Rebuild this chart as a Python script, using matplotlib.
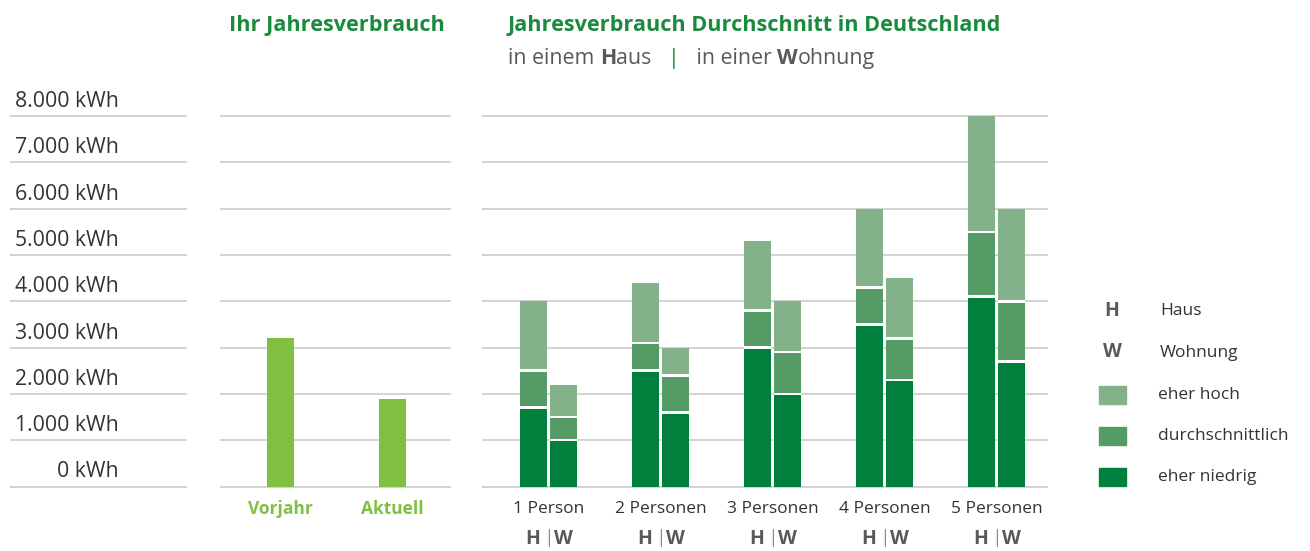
import matplotlib.pyplot as plt
from matplotlib.patches import Rectangle

plt.rcParams['font.family'] = ['Open Sans', 'DejaVu Sans']

# Achse (kWh)
ticks = [0, 1000, 2000, 3000, 4000, 5000, 6000, 7000, 8000]
tick_labels = ["0 kWh", "1.000 kWh", "2.000 kWh", "3.000 kWh", "4.000 kWh",
               "5.000 kWh", "6.000 kWh", "7.000 kWh", "8.000 kWh"]

# Ihr Jahresverbrauch
own_labels = ["Vorjahr", "Aktuell"]
own_values = [3200, 1890]

# Durchschnitt in Deutschland (Obergrenzen der Stufen, kumuliert)
groups = ["1 Person", "2 Personen", "3 Personen", "4 Personen", "5 Personen"]
haus_niedrig = [1700, 2500, 3000, 3500, 4100]
haus_durch = [2500, 3100, 3800, 4300, 5500]
haus_hoch = [4000, 4400, 5300, 6000, 8000]
wohn_niedrig = [1000, 1600, 2000, 2300, 2700]
wohn_durch = [1500, 2400, 2900, 3200, 4000]
wohn_hoch = [2200, 3000, 4000, 4500, 6000]

legend_labels = ["eher hoch", "durchschnittlich", "eher niedrig"]

c_niedrig = "#007f3d"
c_durch = "#559b65"
c_hoch = "#83b189"
c_own = "#80c041"
c_title = "#1a8a3e"
c_text = "#333333"
c_grey = "#58595b"
c_grid = "#d3d3d3"

W, H = 1310, 551
fig = plt.figure(figsize=(W / 100, H / 100), dpi=100)

# vertikale Skala: 0 -> 486.5 px, 8000 -> 116 px (von oben)
ymin, ymax = -200, 8200
scale = (486.5 - 116) / 8000
top_px = 116 - (ymax - 8000) * scale
bot_px = 486.5 + (0 - ymin) * scale


def make_axes(x0, x1):
    ax = fig.add_axes([x0 / W, (H - bot_px) / H, (x1 - x0) / W, (bot_px - top_px) / H])
    ax.set_ylim(ymin, ymax)
    ax.axis("off")
    for t in ticks:
        ax.axhline(t, color=c_grid, lw=1.4, zorder=0)
    return ax


# Beschriftungsspalte
ax0 = make_axes(10, 187)
ax0.set_xlim(0, 1)
for t, lab in zip(ticks, tick_labels):
    ax0.annotate(lab, xy=((119 - 10) / 177, t), xytext=(0, 6.5), textcoords="offset points",
                 ha="right", va="baseline", fontsize=15.3, color=c_text)

# Ihr Jahresverbrauch
ax1 = make_axes(220, 451)
ax1.set_xlim(-0.54, 1.522)
xs = list(range(len(own_values)))
ax1.bar(xs, own_values, width=0.241, color=c_own, zorder=2)
for x, lab in zip(xs, own_labels):
    ax1.annotate(lab, xy=(x, 0), xytext=(0, -16), textcoords="offset points",
                 ha="center", va="center", fontsize=12.5, fontweight="bold", color=c_own)

# Durchschnitt in Deutschland
ax2 = make_axes(482, 1048)
ax2.set_xlim(-0.594, 4.46)
bw = 0.236
off = 0.134
gap = 55
for i in range(len(groups)):
    for xpos, lo, mid, hi in [(i - off, haus_niedrig[i], haus_durch[i], haus_hoch[i]),
                              (i + off, wohn_niedrig[i], wohn_durch[i], wohn_hoch[i])]:
        ax2.bar(xpos, lo, width=bw, color=c_niedrig, zorder=2)
        ax2.bar(xpos, mid - lo, bottom=lo, width=bw, color=c_durch, zorder=2)
        ax2.bar(xpos, hi - mid, bottom=mid, width=bw, color=c_hoch, zorder=2)
        for b in (lo, mid):
            ax2.bar(xpos, gap, bottom=b - gap / 2, width=bw, color="white", zorder=3)
    ax2.annotate(groups[i], xy=(i, 0), xytext=(0, -16.5), textcoords="offset points",
                 ha="center", va="center", fontsize=12.5, color=c_text)
    ax2.annotate("H", xy=(i - off, 0), xytext=(-0.5, -38), textcoords="offset points",
                 ha="center", va="center", fontsize=14, fontweight="bold", color=c_grey)
    ax2.annotate("W", xy=(i + off, 0), xytext=(0, -38), textcoords="offset points",
                 ha="center", va="center", fontsize=14, fontweight="bold", color=c_grey)
    ax2.annotate("|", xy=(i, 0), xytext=(0, -37), textcoords="offset points",
                 ha="center", va="center", fontsize=14, fontweight="light", color=c_title)

# Titel
fig.text(229 / W, 1 - 25 / H, "Ihr Jahresverbrauch", ha="left", va="center",
         fontsize=15.6, fontweight="bold", color=c_title)
fig.text(508 / W, 1 - 25 / H, "Jahresverbrauch Durchschnitt in Deutschland", ha="left",
         va="center", fontsize=15.6, fontweight="bold", color=c_title)

# Untertitel aus Teilen zusammensetzen
renderer = fig.canvas.get_renderer()
parts = [("in einem ", "normal", c_grey), ("H", "bold", c_grey), ("aus   ", "normal", c_grey),
         ("|", "normal", c_title), ("   in einer ", "normal", c_grey), ("W", "bold", c_grey),
         ("ohnung", "normal", c_grey)]
xpx = 508
for s, wgt, col in parts:
    t = fig.text(xpx / W, 1 - 64 / H, s, ha="left", va="baseline", fontsize=15.4,
                 fontweight=wgt, color=col)
    xpx += t.get_window_extent(renderer).width

# Legende
fig.text(1112 / W, 1 - 311 / H, "H", ha="center", va="center", fontsize=14,
         fontweight="bold", color=c_grey)
fig.text(1160 / W, 1 - 311 / H, "Haus", ha="left", va="center", fontsize=12.5, color=c_text)
fig.text(1112 / W, 1 - 352 / H, "W", ha="center", va="center", fontsize=14,
         fontweight="bold", color=c_grey)
fig.text(1160 / W, 1 - 353 / H, "Wohnung", ha="left", va="center", fontsize=12.5, color=c_text)
for k, (lab, col) in enumerate(zip(legend_labels, [c_hoch, c_durch, c_niedrig])):
    yc = 395 + 41 * k
    fig.patches.append(Rectangle((1099 / W, 1 - (yc + 9) / H), 27 / W, 18 / H,
                                 transform=fig.transFigure, color=col))
    fig.text(1158 / W, 1 - yc / H, lab, ha="left", va="center", fontsize=12.5, color=c_text)

fig.savefig("out.png", dpi=100, facecolor="white")
